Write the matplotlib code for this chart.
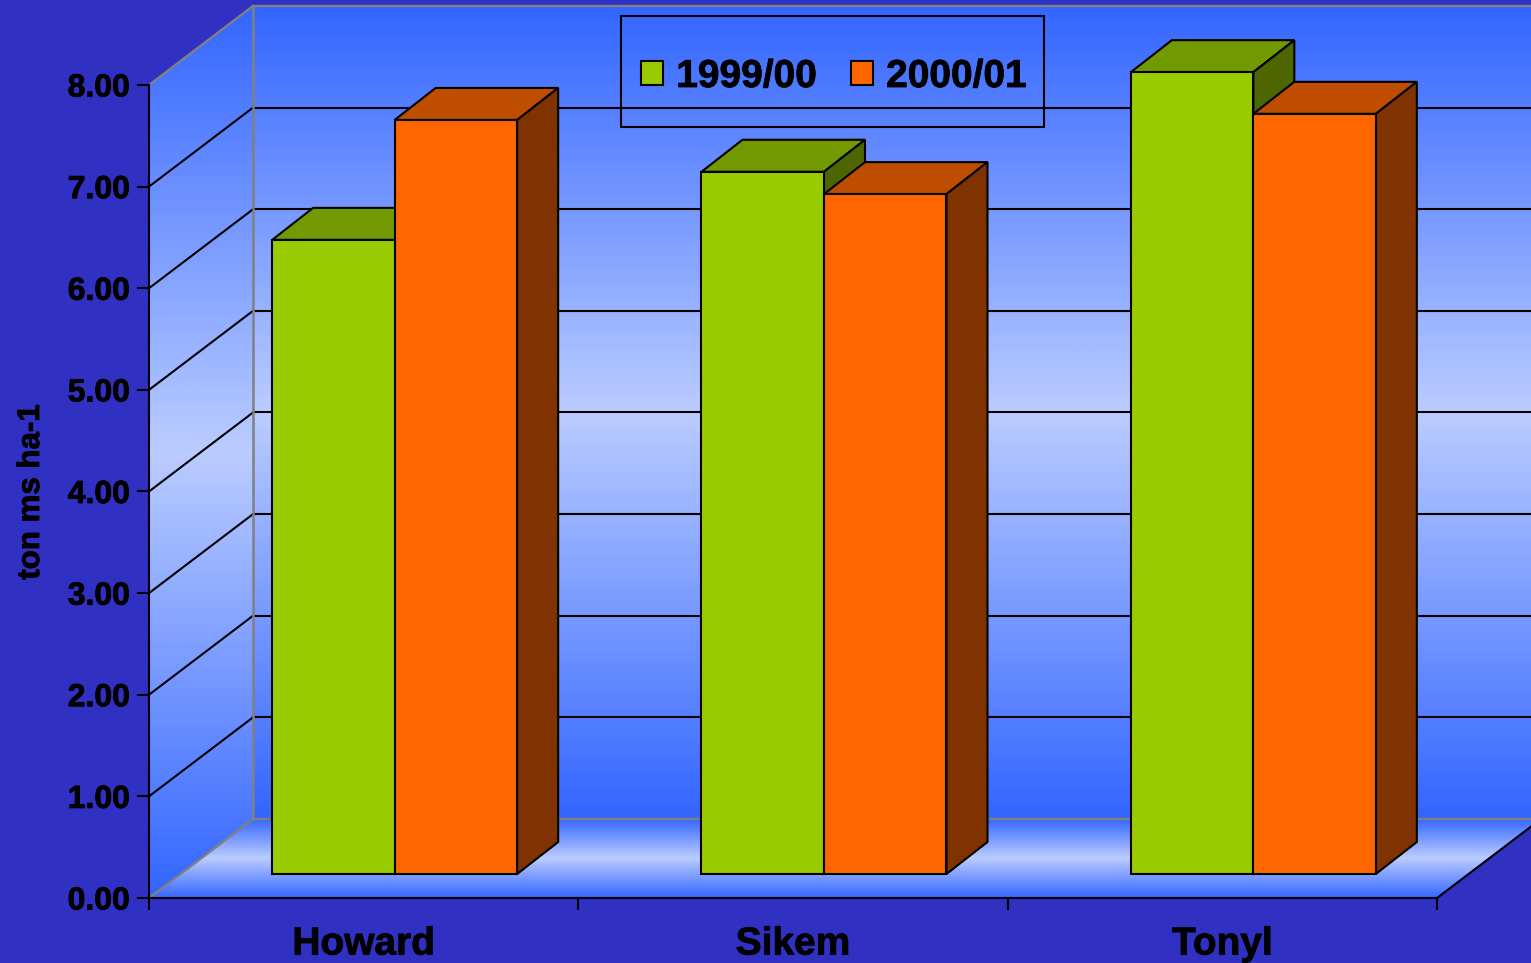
import numpy as np
import matplotlib
matplotlib.use('Agg')
import matplotlib.pyplot as plt
import matplotlib.patheffects as pe
from matplotlib.patches import Polygon, Rectangle, Patch
from matplotlib.colors import LinearSegmentedColormap

categories = ['Howard', 'Sikem', 'Tonyl']
series_names = ['1999/00', '2000/01']
values_1999 = [6.24, 6.91, 7.89]
values_2000 = [7.42, 6.69, 7.48]
yticks = [0, 1, 2, 3, 4, 5, 6, 7, 8]

W, H = 1531, 963
BG = '#3030C2'
FONT = 'Liberation Sans'
LW = 1.5
face = {'1999/00': ('#99CC00', '#739900', '#4D6600'),
        '2000/01': ('#FF6600', '#BF4D00', '#803300')}

plt.rcParams['font.family'] = FONT
plt.rcParams['font.weight'] = 'bold'
fig = plt.figure(figsize=(W / 100, H / 100), dpi=100, facecolor=BG)
ax = fig.add_axes([0, 0, 1, 1], facecolor=BG)

# data <-> pixel scale of the front plane
px_x = 429.33   # pixels per category
px_y = 101.625  # pixels per unit
x0_px, y0_px = 149, 898
ax.set_xlim(-x0_px / px_x, (W - x0_px) / px_x)
ax.set_ylim((y0_px - H) / px_y, y0_px / px_y)

wall_dx, wall_dy = 104 / px_x, 79 / px_y
bar_dx, bar_dy = 31 / px_x, 24 / px_y
dep_dx, dep_dy = 41 / px_x, 32 / px_y
bar_w = 122.5 / px_x
ymax = yticks[-1]
ncat = len(categories)

cmap = LinearSegmentedColormap.from_list('w', ['#3366FF', '#BBCCFF', '#3366FF'])
grad = np.linspace(0, 1, 256).reshape(-1, 1)


def gradient(poly, y_low, y_high):
    im = ax.imshow(grad, cmap=cmap, aspect='auto', origin='lower', zorder=0,
                   extent=(ax.get_xlim()[0], ax.get_xlim()[1], y_low, y_high),
                   interpolation='bilinear')
    p = Polygon(poly, closed=True, transform=ax.transData, fc='none', ec='none')
    ax.add_patch(p)
    im.set_clip_path(p)


right = 3.4
gradient([(wall_dx, wall_dy), (right, wall_dy), (right, ymax + wall_dy), (wall_dx, ymax + wall_dy)],
         wall_dy, ymax + wall_dy)
gradient([(0, 0), (wall_dx, wall_dy), (wall_dx, ymax + wall_dy), (0, ymax)], 0, ymax + wall_dy)
gradient([(0, 0), (wall_dx, wall_dy), (ncat + wall_dx, wall_dy), (ncat, 0)], 0, wall_dy)
ax.set_xlim(-x0_px / px_x, (W - x0_px) / px_x)
ax.set_ylim((y0_px - H) / px_y, y0_px / px_y)

# gridlines on walls
for v in yticks:
    col = '#808080' if v in (0, ymax) else 'black'
    lw = 1.7 if v in (0, ymax) else LW
    ax.plot([wall_dx, right], [v + wall_dy] * 2, color=col, lw=lw, zorder=1)
    ax.plot([0, wall_dx], [v, v + wall_dy], color=col, lw=lw, zorder=1)
ax.plot([wall_dx, wall_dx], [wall_dy, ymax + wall_dy], color='#808080', lw=1.8, zorder=1)
ax.plot([ncat, ncat + wall_dx], [0, wall_dy], color='black', lw=LW, zorder=2)

# bars
z = 3
for i in range(ncat):
    for s, (name, vals) in enumerate(zip(series_names, [values_1999, values_2000])):
        front, top, side = face[name]
        left = i + 0.5 + bar_dx - bar_w + s * bar_w
        v = vals[i]
        base = bar_dy
        tip = base + v
        l, r = left, left + bar_w
        ax.add_patch(Polygon([(l, tip), (r, tip), (r + dep_dx, tip + dep_dy), (l + dep_dx, tip + dep_dy)],
                             fc=top, ec='black', lw=LW, zorder=z, joinstyle='miter'))
        ax.add_patch(Polygon([(r, base), (r + dep_dx, base + dep_dy), (r + dep_dx, tip + dep_dy), (r, tip)],
                             fc=side, ec='black', lw=LW, zorder=z, joinstyle='miter'))
        ax.bar(left, v, width=bar_w, bottom=base, align='edge', color=front,
               edgecolor='black', linewidth=LW, zorder=z + 0.5)
        z += 1

# axes
for sp in ('top', 'right'):
    ax.spines[sp].set_visible(False)
ax.spines['left'].set_position(('data', 0))
ax.spines['left'].set_bounds(0, ymax)
ax.spines['bottom'].set_position(('data', 0))
ax.spines['bottom'].set_bounds(0, ncat)
for sp in ('left', 'bottom'):
    ax.spines[sp].set_linewidth(LW)
    ax.spines[sp].set_zorder(2)
ax.set_yticks(yticks, [f'{v:.2f}' for v in yticks], fontsize=23, fontweight='bold')
ax.tick_params(axis='y', length=8.6, width=LW, pad=5, colors='black')
ax.set_xticks(range(ncat + 1), [''] * (ncat + 1))
ax.tick_params(axis='x', which='major', length=8.6, width=LW)
ax.set_xticks(np.arange(ncat) + 0.5, categories, minor=True, fontsize=28, fontweight='bold')
ax.tick_params(axis='x', which='minor', length=0, pad=20.5)

yl = ax.text(31 / W, 1 - 492 / H, 'ton ms ha-1', transform=fig.transFigure, rotation=90,
             ha='center', va='center', fontsize=22.5, fontweight='bold', color='black')

# legend
ax.add_patch(Rectangle((621 / W, 1 - 127 / H), 423 / W, 111 / H, transform=fig.transFigure,
                       fc='none', ec='black', lw=LW, zorder=30))
handles = [Patch(fc=face[n][0], ec='black', lw=LW) for n in series_names]
leg = ax.legend(handles, series_names, loc='center', ncol=2, frameon=False,
                bbox_to_anchor=(834 / W, 1 - 77 / H), bbox_transform=fig.transFigure,
                prop={'family': FONT, 'weight': 'bold', 'size': 28},
                handlelength=0.57, handleheight=0.57, handletextpad=0.33,
                columnspacing=0.88, borderpad=0, borderaxespad=0)
leg.set_zorder(31)

stroke = [pe.withStroke(linewidth=0.6, foreground='black')]
fig.canvas.draw()
for t in (ax.get_yticklabels() + ax.get_xticklabels(minor=True) + leg.get_texts() + [yl]):
    t.set_path_effects(stroke)

fig.savefig('out.png', dpi=100, facecolor=BG)
